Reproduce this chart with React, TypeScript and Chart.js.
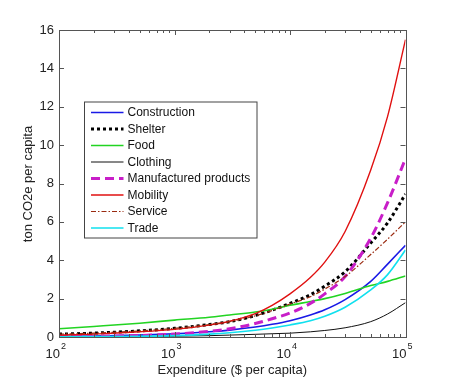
import React, { useEffect, useRef } from "react";
import { Chart, registerables } from "chart.js";

Chart.register(...registerables);

const expenditure = [100, 200, 500, 1000, 2000, 3000, 5000, 7000, 10000, 15000, 20000, 30000, 50000, 70000, 100000];
const construction = [0.03, 0.05, 0.1, 0.17, 0.27, 0.36, 0.52, 0.66, 0.85, 1.15, 1.42, 1.95, 2.9, 3.8, 4.78];
const shelter = [0.15, 0.2, 0.32, 0.45, 0.65, 0.8, 1.12, 1.4, 1.75, 2.2, 2.65, 3.4, 4.9, 5.95, 7.45];
const food = [0.43, 0.55, 0.72, 0.88, 1.03, 1.15, 1.3, 1.45, 1.65, 1.85, 2.0, 2.27, 2.68, 2.9, 3.18];
const clothing = [0.0, 0.01, 0.02, 0.04, 0.07, 0.1, 0.14, 0.17, 0.2, 0.27, 0.34, 0.48, 0.8, 1.2, 1.79];
const manufactured = [0.02, 0.04, 0.08, 0.15, 0.3, 0.43, 0.7, 0.95, 1.25, 1.75, 2.25, 3.15, 5.15, 7.0, 9.3];
const mobility = [0.1, 0.15, 0.27, 0.4, 0.62, 0.82, 1.22, 1.65, 2.25, 3.1, 3.9, 5.5, 8.7, 11.5, 15.5];
const service = [0.15, 0.2, 0.32, 0.45, 0.65, 0.8, 1.1, 1.38, 1.72, 2.1, 2.5, 3.15, 4.3, 5.1, 6.0];
const trade = [0.01, 0.02, 0.04, 0.07, 0.15, 0.22, 0.35, 0.47, 0.63, 0.85, 1.08, 1.55, 2.45, 3.25, 4.53];

const yTicks = [0, 2, 4, 6, 8, 10, 12, 14, 16];
const xDecades = [2, 3, 4, 5];

const FONT = "'Liberation Sans', Arial, sans-serif";

const seriesDefs = [
  { label: "Construction", data: construction, color: "#1a1ae6", width: 1.6, dash: [] as number[] },
  { label: "Shelter", data: shelter, color: "#000000", width: 3, dash: [3, 3] },
  { label: "Food", data: food, color: "#22d422", width: 1.6, dash: [] as number[] },
  { label: "Clothing", data: clothing, color: "#111111", width: 1, dash: [] as number[] },
  { label: "Manufactured products", data: manufactured, color: "#c81ec8", width: 3, dash: [9, 5] },
  { label: "Mobility", data: mobility, color: "#e01010", width: 1.4, dash: [] as number[] },
  { label: "Service", data: service, color: "#9a2a10", width: 1.2, dash: [5, 2, 1.5, 2] },
  { label: "Trade", data: trade, color: "#10e0ee", width: 1.6, dash: [] as number[] },
];

const framePlugin = {
  id: "frame",
  afterDraw(chart: any) {
    const ctx = chart.ctx;
    const a = chart.chartArea;
    const xs = chart.scales.x;
    const ys = chart.scales.y;
    ctx.save();
    ctx.strokeStyle = "#555";
    ctx.lineWidth = 1;
    ctx.setLineDash([]);
    ctx.strokeRect(Math.round(a.left) + 0.5, Math.round(a.top) + 0.5, Math.round(a.right - a.left), Math.round(a.bottom - a.top));
    ctx.beginPath();
    for (const v of yTicks) {
      const y = Math.round(ys.getPixelForValue(v)) + 0.5;
      ctx.moveTo(a.left, y);
      ctx.lineTo(a.left + 5, y);
      ctx.moveTo(a.right, y);
      ctx.lineTo(a.right - 5, y);
    }
    for (const d of xDecades) {
      for (let m = 1; m <= 9; m++) {
        if (d === 5 && m > 1) break;
        const v = m * Math.pow(10, d);
        const x = Math.round(xs.getPixelForValue(v)) + 0.5;
        const len = m === 1 ? 5 : 3;
        ctx.moveTo(x, a.bottom);
        ctx.lineTo(x, a.bottom - len);
        ctx.moveTo(x, a.top);
        ctx.lineTo(x, a.top + len);
      }
    }
    ctx.stroke();
    ctx.fillStyle = "#222";
    for (const d of xDecades) {
      const x = xs.getPixelForValue(Math.pow(10, d));
      ctx.font = `13px ${FONT}`;
      ctx.textAlign = "right";
      ctx.textBaseline = "middle";
      ctx.fillText("10", x + 1, 354);
      ctx.font = `9px ${FONT}`;
      ctx.textAlign = "left";
      ctx.fillText(String(d), x + 2, 347);
    }
    ctx.font = `13px ${FONT}`;
    ctx.textAlign = "center";
    ctx.textBaseline = "middle";
    ctx.fillText("Expenditure ($ per capita)", (a.left + a.right) / 2, 370);
    ctx.save();
    ctx.translate(28, 184);
    ctx.rotate(-Math.PI / 2);
    ctx.fillText("ton CO2e per capita", 0, 0);
    ctx.restore();
    const lx = 84, ly = 101.5, lw = 172.5, lh = 136;
    ctx.fillStyle = "#ffffff";
    ctx.fillRect(lx, ly, lw, lh);
    ctx.strokeStyle = "#444";
    ctx.lineWidth = 1;
    ctx.strokeRect(lx + 0.5, ly + 0.5, lw, lh);
    chart.data.datasets.forEach((ds: any, i: number) => {
      const y = 112.5 + i * 16.5;
      ctx.beginPath();
      ctx.strokeStyle = ds.borderColor;
      ctx.lineWidth = ds.borderWidth;
      ctx.setLineDash(ds.borderDash || []);
      ctx.moveTo(91, y);
      ctx.lineTo(123.5, y);
      ctx.stroke();
      ctx.setLineDash([]);
      ctx.fillStyle = "#111";
      ctx.font = `12px ${FONT}`;
      ctx.textAlign = "left";
      ctx.textBaseline = "middle";
      ctx.fillText(ds.label, 127.5, y + 0.5);
    });
    ctx.restore();
  },
};

export default function App() {
  const ref = useRef<HTMLCanvasElement | null>(null);
  useEffect(() => {
    if (!ref.current) return;
    const chart = new Chart(ref.current, {
      type: "line",
      data: {
        datasets: seriesDefs.map((s, i) => ({
          label: s.label,
          data: expenditure.map((x, j) => ({ x, y: s.data[j] })),
          borderColor: s.color,
          backgroundColor: s.color,
          borderWidth: s.width,
          borderDash: s.dash,
          pointRadius: 0,
          fill: false,
          cubicInterpolationMode: "monotone" as const,
          order: seriesDefs.length - i,
        })),
      },
      options: {
        responsive: false,
        animation: false,
        layout: { padding: { top: 30, right: 44.5, left: 0, bottom: 0 } },
        plugins: { legend: { display: false }, tooltip: { enabled: false } },
        scales: {
          x: {
            type: "logarithmic",
            min: 100,
            max: 100000,
            grid: { display: false, drawTicks: false },
            border: { display: false },
            ticks: { display: false },
            afterFit: (s: any) => { s.height = 43; },
          },
          y: {
            type: "linear",
            min: 0,
            max: 16,
            grid: { display: false, drawTicks: false },
            border: { display: false },
            ticks: {
              stepSize: 2,
              padding: 5,
              color: "#222",
              font: { family: FONT, size: 13 },
            },
            afterFit: (s: any) => { s.width = 59; },
          },
        },
      },
      plugins: [framePlugin],
    });
    return () => chart.destroy();
  }, []);
  return (
    <div style={{ position: "fixed", left: 0, top: 0, width: 450, height: 380, background: "#fff" }}>
      <canvas ref={ref} width={450} height={380} />
    </div>
  );
}
